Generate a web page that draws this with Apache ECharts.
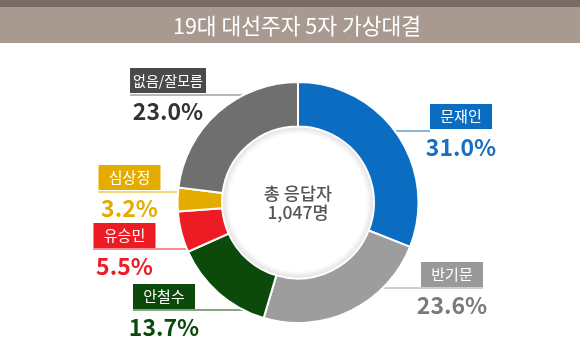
<!DOCTYPE html>
<html>
<head>
<meta charset="utf-8">
<script src="https://cdn.jsdelivr.net/npm/echarts@6/dist/echarts.min.js"></script>
<style>
html,body{margin:0;padding:0;background:#fff;}
#chart{width:580px;height:355px;}
</style>
</head>
<body>
<div id="chart"></div>
<script>
const titleText = '19대 대선주자 5자 가상대결';
const centerLines = ['총 응답자', '1,047명'];
const categories = ['문재인', '반기문', '안철수', '유승민', '심상정', '없음/잘모름'];
const values = [31.0, 23.6, 13.7, 5.5, 3.2, 23.0];

const sliceColors = ['#0a6dc2', '#9d9d9d', '#0b4a0b', '#ed1c24', '#e5ac00', '#6f6f6f'];
const boxColors   = ['#0a6dc2', '#999999', '#0b4a0b', '#ed1c24', '#e5ac00', '#4a4a4a'];
const valueColors = ['#1a6fbf', '#7a7a7a', '#0b4a0b', '#ed1c24', '#e5ac00', '#333333'];

const CX = 298, CY = 202.5, R_IN = 76, R_OUT = 120.5;
const labelPos = [[461,104],[452,262],[164,284],[124.5,223],[129.5,165],[168,68]];
const lineY = [131, 288, 310, 249, 192, 95];
const lineEnd = [430, 483, 133, 93, 98, 130];
const boxWidths = [48, 48, 48, 48, 48, 76];
const boxPads = [7, 7, 7, 7, 7, 0];
const boxFont = [15, 15, 15, 15, 15, 14];
const FONT = "'Noto Sans CJK KR', 'Noto Sans', sans-serif";

const data = categories.map((name, i) => ({
  name: name,
  value: values[i],
  itemStyle: { color: sliceColors[i] },
  label: {
    rich: {
      box: { backgroundColor: boxColors[i], width: boxWidths[i], padding: [0, boxPads[i]], fontSize: boxFont[i] },
      val: { color: valueColors[i] }
    }
  }
}));

const chart = echarts.init(document.getElementById('chart'), null, {renderer: 'canvas'});
chart.setOption({
  animation: false,
  backgroundColor: '#ffffff',
  graphic: [
    { type: 'rect', shape: { x: 0, y: 0, width: 580, height: 43 }, style: { fill: '#a89a91' }, z: 0 },
    { type: 'rect', shape: { x: 0, y: 0, width: 580, height: 7 }, style: { fill: '#786c65' }, z: 0 },
    { type: 'text', x: 297, y: 26, style: { text: titleText, fill: '#ffffff', font: "21.5px " + FONT, textAlign: 'center', textVerticalAlign: 'middle' }, z: 1 },
    { type: 'circle', shape: { cx: CX, cy: CY, r: R_IN }, style: {
        fill: { type: 'radial', x: 0.5, y: 0.5, r: 0.5, colorStops: [
          { offset: 0, color: 'rgba(0,0,0,0)' },
          { offset: 0.9, color: 'rgba(0,0,0,0)' },
          { offset: 1, color: 'rgba(0,0,0,0.12)' }
        ] } }, z: 1 },
    { type: 'text', x: CX, y: CY, style: { text: centerLines.join('\n'), fill: '#555555', font: "500 17.5px " + FONT, lineHeight: 19, textAlign: 'center', textVerticalAlign: 'middle' }, z: 3 }
  ],
  series: [{
    type: 'pie',
    center: [CX, CY],
    radius: [R_IN, R_OUT],
    startAngle: 90,
    clockwise: true,
    avoidLabelOverlap: false,
    itemStyle: { borderColor: '#ffffff', borderWidth: 2 },
    label: {
      show: true,
      position: 'outer',
      alignTo: 'none',
      fontFamily: FONT,
      formatter: p => '{box|' + p.name + '}\n{val|' + p.value.toFixed(1) + '%}',
      rich: {
        box: { color: '#ffffff', fontSize: 15, fontFamily: FONT, height: 25, lineHeight: 25, align: 'center' },
        val: { fontSize: 23, fontWeight: 'bold', fontFamily: FONT, lineHeight: 36, align: 'center' }
      }
    },
    labelLine: { show: true, length: 10, length2: 10, lineStyle: { width: 1 } },
    labelLayout: function (p) {
      const i = p.dataIndex;
      const y = lineY[i];
      const dy = y - CY;
      const dx = Math.sqrt(Math.max(0, R_OUT * R_OUT - dy * dy));
      const ex = lineEnd[i] > CX ? CX + dx - 1 : CX - dx + 1;
      return {
        x: labelPos[i][0],
        y: labelPos[i][1],
        align: 'center',
        verticalAlign: 'top',
        labelLinePoints: [[ex, y], [lineEnd[i], y], [lineEnd[i], y]]
      };
    },
    data: data
  }]
});
</script>
</body>
</html>
